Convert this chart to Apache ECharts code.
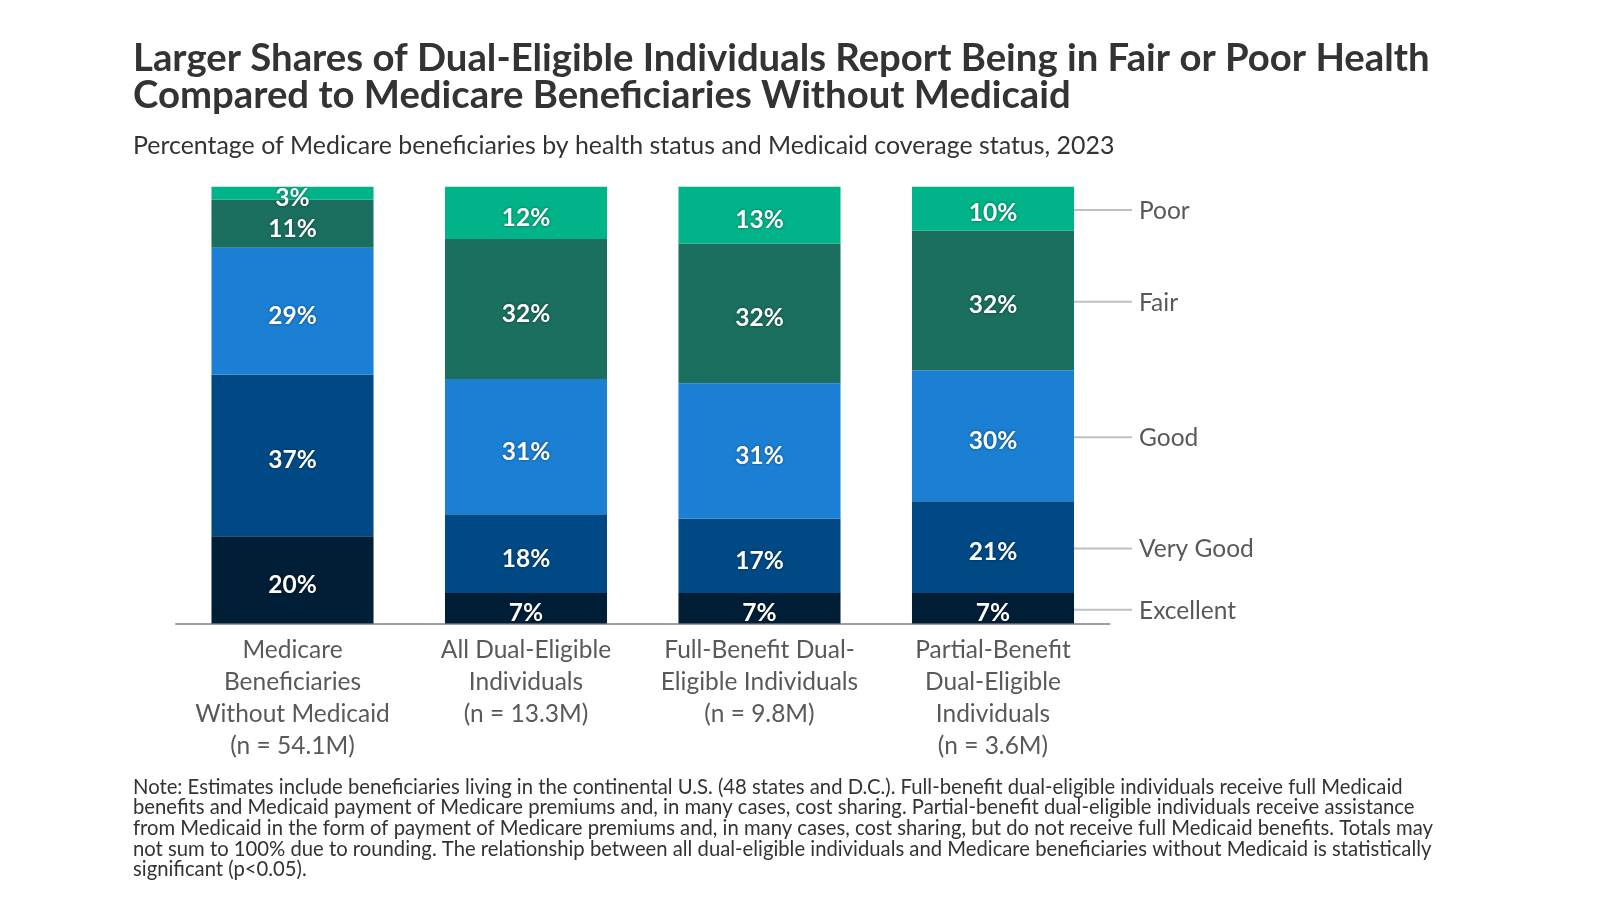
<!DOCTYPE html>
<html><head><meta charset="utf-8">
<script src="https://cdn.jsdelivr.net/npm/echarts@6/dist/echarts.min.js"></script>
<style>html,body{margin:0;padding:0;background:#fff}#c{width:1600px;height:900px}</style>
</head><body><div id="c"></div>
<script>
const titleLines = ['Larger Shares of Dual-Eligible Individuals Report Being in Fair or Poor Health','Compared to Medicare Beneficiaries Without Medicaid'];
const subtitle = 'Percentage of Medicare beneficiaries by health status and Medicaid coverage status, 2023';
const categories = ['Medicare\nBeneficiaries\nWithout Medicaid\n(n = 54.1M)','All Dual-Eligible\nIndividuals\n(n = 13.3M)','Full-Benefit Dual-\nEligible Individuals\n(n = 9.8M)','Partial-Benefit\nDual-Eligible\nIndividuals\n(n = 3.6M)'];
const seriesNames = ['Excellent','Very Good','Good','Fair','Poor'];
const excellent = [20, 7, 7, 7];
const veryGood = [37, 18, 17, 21];
const good = [29, 31, 31, 30];
const fair = [11, 32, 32, 32];
const poor = [3, 12, 13, 10];
const noteLines = [
 'Note: Estimates include beneficiaries living in the continental U.S. (48 states and D.C.). Full-benefit dual-eligible individuals receive full Medicaid',
 'benefits and Medicaid payment of Medicare premiums and, in many cases, cost sharing. Partial-benefit dual-eligible individuals receive assistance',
 'from Medicaid in the form of payment of Medicare premiums and, in many cases, cost sharing, but do not receive full Medicaid benefits. Totals may',
 'not sum to 100% due to rounding. The relationship between all dual-eligible individuals and Medicare beneficiaries without Medicaid is statistically',
 'significant (p<0.05).'
];
const seriesData = [excellent, veryGood, good, fair, poor];
const colors = ['#001E36','#004985','#1B7FD4','#1A6F5E','#00B388'];

const FAM = 'Lato';
const cv = document.createElement('canvas').getContext('2d');
function fit(text, weight, target){ cv.font = weight+' 100px '+FAM; return 100*target/cv.measureText(text).width; }

const titleSize = fit(titleLines[0],'bold',1297);
const subSize = fit(subtitle,'normal',982);
const noteSize = fit(noteLines[3],'normal',1299);

const chart = echarts.init(document.getElementById('c'), null, {renderer:'canvas'});
const gridLeft = 175.75, gridTop = 186.7, gridW = 934, gridH = 436.8;

chart.setOption({
  animation:false,
  backgroundColor:'#fff',
  grid:{left:gridLeft, top:gridTop, width:gridW, height:gridH},
  xAxis:{type:'category', data:categories,
    axisLine:{lineStyle:{color:'#808080', width:1.5}},
    axisTick:{show:false},
    axisLabel:{interval:0, color:'#595959', fontFamily:FAM, fontSize:24.5, lineHeight:32, margin:11}},
  yAxis:{type:'value', min:0, max:100, show:false, splitLine:{show:false}},
  series: seriesNames.map((n,i)=>({
    name:n, type:'bar', stack:'total', data:seriesData[i], barWidth:'69.4%',
    itemStyle:{color:colors[i]},
    label:{show:true, position:'inside', offset:[0,5], formatter:'{c}%', color:'#fff', fontFamily:FAM, fontWeight:'bold', fontSize:24.5,
      textShadowColor:'rgba(0,0,0,0.45)', textShadowBlur:3},
    emphasis:{disabled:true}
  }))
});

const graphics = [];
graphics.push({type:'text', left:133, top:40, style:{text:titleLines.join('\n'), font:'bold '+titleSize.toFixed(2)+'px '+FAM, fill:'#333', lineHeight:37}});
graphics.push({type:'text', left:133, top:133, style:{text:subtitle, font:'normal '+subSize.toFixed(2)+'px '+FAM, fill:'#333'}});
graphics.push({type:'text', left:133, top:777, style:{text:noteLines.join('\n'), font:'normal '+noteSize.toFixed(2)+'px '+FAM, fill:'#333', lineHeight:20.6}});
const last = categories.length-1;
let cum = 0;
seriesNames.forEach((n,i)=>{
  const v = seriesData[i][last];
  const mid = cum + v/2; cum += v;
  const p = chart.convertToPixel({gridIndex:0}, [last, mid]);
  const right = chart.convertToPixel({gridIndex:0}, [last, 0])[0] + 81;
  const y = p[1] + 1.5;
  graphics.push({type:'line', shape:{x1:right, y1:y, x2:right+58, y2:y}, style:{stroke:'#c0c0c0', lineWidth:2}});
  graphics.push({type:'text', x:right+65, y:y+1, style:{text:n, font:'normal 24.5px '+FAM, fill:'#595959', textVerticalAlign:'middle'}});
});
chart.setOption({graphic:graphics});
</script></body></html>
